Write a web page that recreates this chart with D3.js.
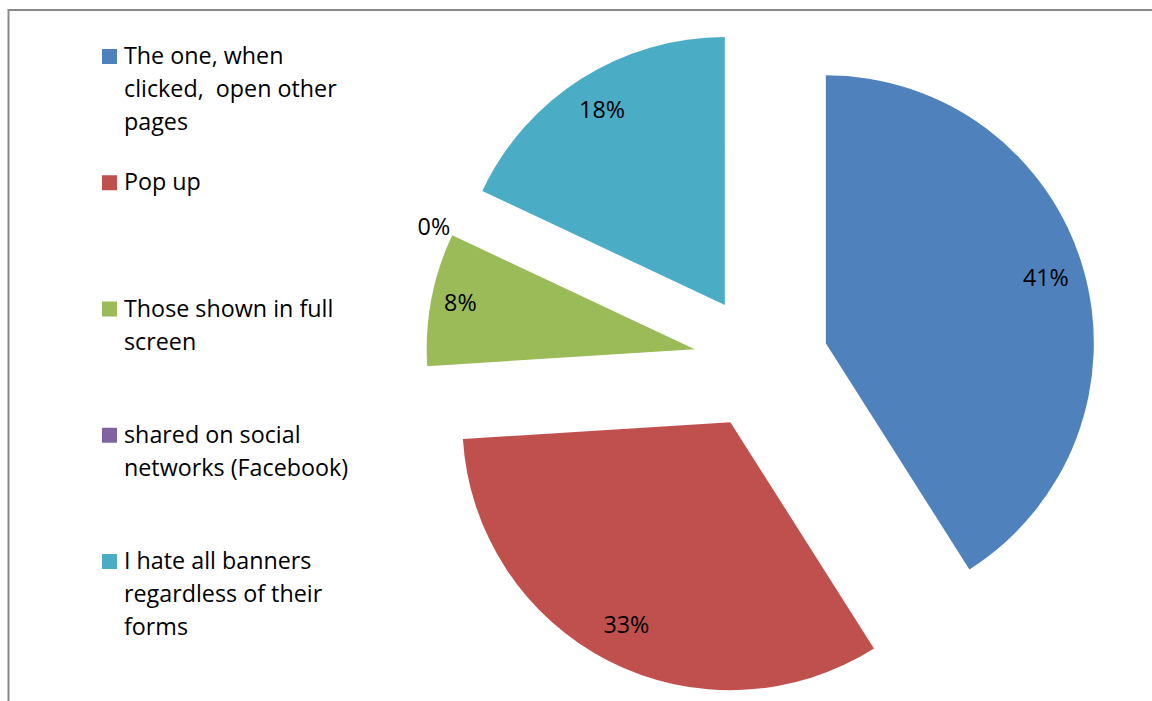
<!DOCTYPE html>
<html>
<head>
<meta charset="utf-8">
<script src="https://cdn.jsdelivr.net/npm/d3@7"></script>
<style>
  html, body { margin: 0; padding: 0; background: #fff; }
  svg { display: block; }
  text { font-family: "Open Sans", "Liberation Sans", sans-serif; fill: #000; white-space: pre; }
</style>
</head>
<body>
<svg id="chart" width="1152" height="701"></svg>
<script>
// Category names (each entry split into its wrapped legend lines)
const categories = [
  ["The one, when", "clicked,  open other", "pages"],
  ["Pop up"],
  ["Those shown in full", "screen"],
  ["shared on social", "networks (Facebook)"],
  ["I hate all banners", "regardless of their", "forms"]
];
// Share of answers, percent
const values = [41, 33, 8, 0, 18];
const colors = ["#4F81BD", "#C0504D", "#9BBB59", "#8064A2", "#4BACC6"];

const svg = d3.select("#chart");
const fontSize = 23.3;

// Outer frame of the chart area
svg.append("rect")
  .attr("x", 8.5).attr("y", 10).attr("width", 1300).attr("height", 900)
  .attr("fill", "none").attr("stroke", "#898989").attr("stroke-width", 2);

// Exploded pie
const cx = 761, cy = 362, radius = 268, explode = 67.5;
const pie = d3.pie().sort(null).value(d => d)(values);
const arc = d3.arc().innerRadius(0).outerRadius(radius);
const pct = d3.format(".0%");

const g = svg.append("g").attr("transform", `translate(${cx},${cy})`);

const slices = g.selectAll("g.slice").data(pie).join("g")
  .attr("class", "slice")
  .attr("transform", d => {
    const m = (d.startAngle + d.endAngle) / 2;
    return `translate(${explode * Math.sin(m)},${-explode * Math.cos(m)})`;
  });

slices.filter(d => d.value > 0).append("path")
  .attr("d", arc)
  .attr("fill", d => colors[d.index]);

// Percentage labels: inside the slice, or just outside for an empty slice
slices.append("text")
  .attr("font-size", fontSize)
  .each(function (d) {
    const m = (d.startAngle + d.endAngle) / 2;
    const t = d3.select(this).text(pct(d.value / 100));
    if (d.value > 0) {
      const k = d.value < 10 ? 0.89 : 0.855;
      t.attr("x", radius * k * Math.sin(m))
       .attr("y", -radius * k * Math.cos(m) - 2)
       .attr("text-anchor", "middle")
       .attr("dy", "0.36em");
    } else {
      const rr = radius + 8;
      t.attr("x", rr * Math.sin(m))
       .attr("y", -rr * Math.cos(m))
       .attr("text-anchor", "end")
       .attr("dy", "0.84em");
    }
  });

// Legend
const legendX = 102, legendTop = 64, itemStep = 126.25, lineStep = 33, box = 15;
const legend = svg.append("g");
const items = legend.selectAll("g").data(categories).join("g")
  .attr("transform", (d, i) => `translate(${legendX},${legendTop + i * itemStep})`);

items.append("rect")
  .attr("x", 0).attr("y", -box).attr("width", box).attr("height", box)
  .attr("fill", (d, i) => colors[i]);

items.append("text")
  .attr("font-size", fontSize)
  .selectAll("tspan").data(d => d).join("tspan")
  .attr("x", 22)
  .attr("y", (d, j) => j * lineStep)
  .text(d => d);
</script>
</body>
</html>
